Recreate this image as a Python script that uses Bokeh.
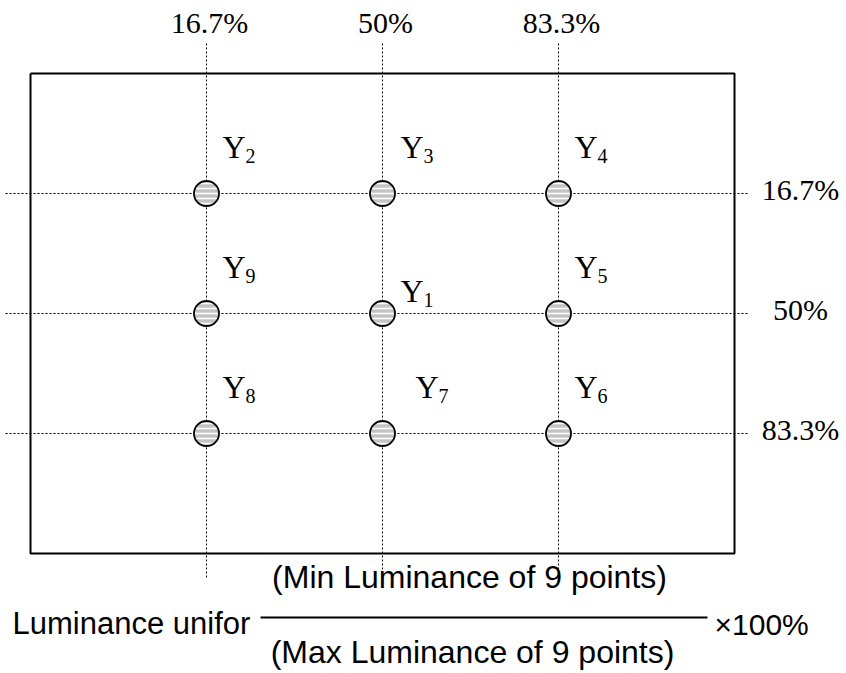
from bokeh.plotting import figure
from bokeh.models import Range1d
from bokeh.core.properties import value
from bokeh.embed import file_html
from bokeh.resources import INLINE

# ---- data ----
col_labels = ["16.7%", "50%", "83.3%"]
row_labels = ["16.7%", "50%", "83.3%"]
col_x = [206, 382, 558]
row_y = [193, 313, 433]
# point numbering, row by row
point_ids = [[2, 3, 4], [9, 1, 5], [8, 7, 6]]
label_dx = [[16, 18, 16], [16, 18, 16], [16, 33, 16]]
label_dy = [[-47, -47, -47], [-47, -23, -47], [-47, -47, -47]]

box = dict(left=30, right=734, top=73, bottom=553)
numerator = "(Min Luminance of 9 points)"
denominator = "(Max Luminance of 9 points)"
lhs = "Luminance unifor"
rhs = "\u00d7100%"

SERIF = value("Liberation Serif")
SANS = value("Liberation Sans")

W, H = 846, 673
p = figure(width=W, height=H, x_range=Range1d(0, W), y_range=Range1d(H, 0),
           output_backend="svg", toolbar_location=None, min_border=0)
p.axis.visible = False
p.grid.visible = False
p.outline_line_color = None

# dotted guide lines
for x in col_x:
    p.line([x, x], [43, 577], line_color="black", line_width=1, line_dash="2 2")
for y in row_y:
    p.line([5, 748], [y, y], line_color="black", line_width=1, line_dash="2 2")

# box
p.line([box["left"], box["right"], box["right"], box["left"], box["left"]],
       [box["top"], box["top"], box["bottom"], box["bottom"], box["top"]],
       line_color="black", line_width=2)

# circles
xs, ys = [], []
for r, y in enumerate(row_y):
    for c, x in enumerate(col_x):
        xs.append(x); ys.append(y)
p.scatter(xs, ys, size=25, marker="circle", fill_color="#c4c4c4", line_color="black",
          line_width=1.8, hatch_pattern="horizontal_line", hatch_color="white",
          hatch_scale=5, hatch_weight=1.5)

# Y labels with subscripts
yx, yy, sx, sy, st = [], [], [], [], []
for r, y in enumerate(row_y):
    for c, x in enumerate(col_x):
        lx = x + label_dx[r][c]
        ly = y + label_dy[r][c]
        yx.append(lx); yy.append(ly)
        sx.append(lx + 23); sy.append(ly + 9); st.append(str(point_ids[r][c]))
p.text(yx, yy, text=["Y"] * len(yx), text_font=SERIF, text_font_size="32px",
       text_baseline="middle", text_align="left", text_color="black")
p.text(sx, sy, text=st, text_font=SERIF, text_font_size="20px",
       text_baseline="middle", text_align="left", text_color="black")

# percentage labels
p.text([x + 3 for x in col_x], [22] * 3, text=col_labels, text_font=SERIF,
       text_font_size="30px", text_baseline="middle", text_align="center",
       text_color="black")
p.text([800] * 3, [y - 4 for y in row_y], text=row_labels, text_font=SERIF,
       text_font_size="30px", text_baseline="middle", text_align="center",
       text_color="black")

# formula
p.line([260, 707], [617, 617], line_color="black", line_width=2)
p.text([469], [576], text=[numerator], text_font=SANS, text_font_size="32px",
       text_baseline="middle", text_align="center", text_color="black")
p.text([472], [651], text=[denominator], text_font=SANS, text_font_size="32px",
       text_baseline="middle", text_align="center", text_color="black")
p.text([12], [623], text=[lhs], text_font=SANS, text_font_size="31px",
       text_baseline="middle", text_align="left", text_color="black")
p.text([714], [624], text=[rhs], text_font=SANS, text_font_size="30px",
       text_baseline="middle", text_align="left", text_color="black")

open("out.html", "w").write(file_html(p, INLINE))
